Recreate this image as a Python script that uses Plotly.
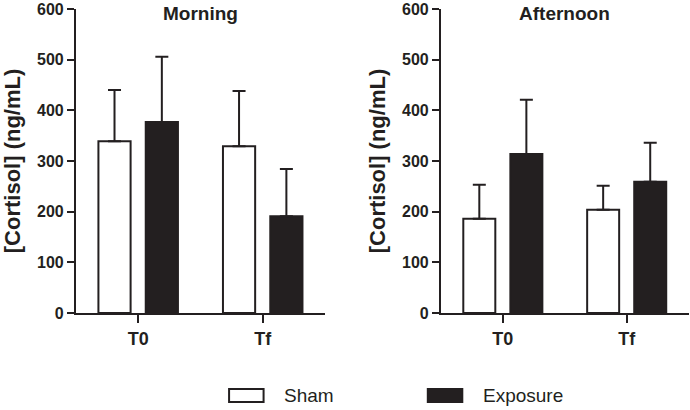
import plotly.graph_objects as go

# Cortisol (ng/mL), mean + SD
timepoints = ['T0', 'Tf']
groups = ['Sham', 'Exposure']

morning_sham = [339, 329]
morning_sham_sd = [101, 109]
morning_exposure = [377, 191]
morning_exposure_sd = [129, 93]

afternoon_sham = [186, 204]
afternoon_sham_sd = [67, 47]
afternoon_exposure = [314, 259]
afternoon_exposure_sd = [107, 77]

y_ticks = [0, 100, 200, 300, 400, 500, 600]

INK = '#231f20'
FONT = 'Liberation Sans, Arial, sans-serif'
fills = {'Sham': 'white', 'Exposure': INK}

panels = [
    ('Morning', 'x', 'y', {'Sham': (morning_sham, morning_sham_sd),
                           'Exposure': (morning_exposure, morning_exposure_sd)}),
    ('Afternoon', 'x2', 'y2', {'Sham': (afternoon_sham, afternoon_sham_sd),
                               'Exposure': (afternoon_exposure, afternoon_exposure_sd)}),
]

fig = go.Figure()
for title, xa, ya, series in panels:
    for g in groups:
        vals, sd = series[g]
        fig.add_trace(go.Bar(
            x=timepoints, y=vals, name=g, xaxis=xa, yaxis=ya, showlegend=False,
            marker=dict(color=fills[g], line=dict(color=INK, width=2)),
            error_y=dict(type='data', symmetric=False, array=sd, arrayminus=[0] * len(sd),
                         color=INK, thickness=2, width=6.5),
        ))

axis_common = dict(showline=True, linecolor=INK, linewidth=2, ticks='outside',
                   tickcolor=INK, tickwidth=2, showgrid=False, zeroline=False,
                   automargin=False)
xaxis_style = dict(axis_common, ticklen=8, range=[-0.5, 1.5],
                   tickfont=dict(family=FONT, size=18, color=INK, weight='bold'))
yaxis_style = dict(axis_common, ticklen=7, range=[0, 600], tickvals=y_ticks,
                   tickfont=dict(family=FONT, size=16, color=INK, weight='bold'),
                   title=dict(text='[Cortisol] (ng/mL)', standoff=10,
                              font=dict(family=FONT, size=22, color=INK, weight='bold')))

fig.update_layout(
    width=690, height=410,
    margin=dict(l=0, r=0, t=9, b=97),
    paper_bgcolor='white', plot_bgcolor='white',
    barmode='group', bargap=0.24, bargroupgap=0.32,
    xaxis=dict(xaxis_style, domain=[0.110, 0.471], anchor='y'),
    yaxis=dict(yaxis_style, domain=[0, 1], anchor='x'),
    xaxis2=dict(xaxis_style, domain=[0.639, 0.998], anchor='y2'),
    yaxis2=dict(yaxis_style, domain=[0, 1], anchor='x2'),
)

# panel titles
for title, xa, ya, _ in panels:
    fig.add_annotation(text=title, xref=f'{xa} domain', yref='paper', x=0.5, y=1.0,
                       xanchor='center', yanchor='middle', yshift=-4, showarrow=False,
                       font=dict(family=FONT, size=19, color=INK, weight='bold'))

# legend drawn as wide boxes under the panels
legend_pos = {'Sham': 0.332, 'Exposure': 0.620}
for g in groups:
    x0 = legend_pos[g]
    fig.add_shape(type='rect', xref='paper', yref='paper', x0=x0, x1=x0 + 0.05,
                  y0=-0.293, y1=-0.25, fillcolor=fills[g], line=dict(color=INK, width=2))
    fig.add_annotation(text=g, xref='paper', yref='paper', x=x0 + 0.077, y=-0.272,
                       xanchor='left', yanchor='middle', showarrow=False,
                       font=dict(family=FONT, size=19, color=INK))

# drop the browser's default body margin so the figure sits at the page corner
fig.write_html('out.html', config={'displayModeBar': False},
               post_script="document.body.style.margin='0';")
